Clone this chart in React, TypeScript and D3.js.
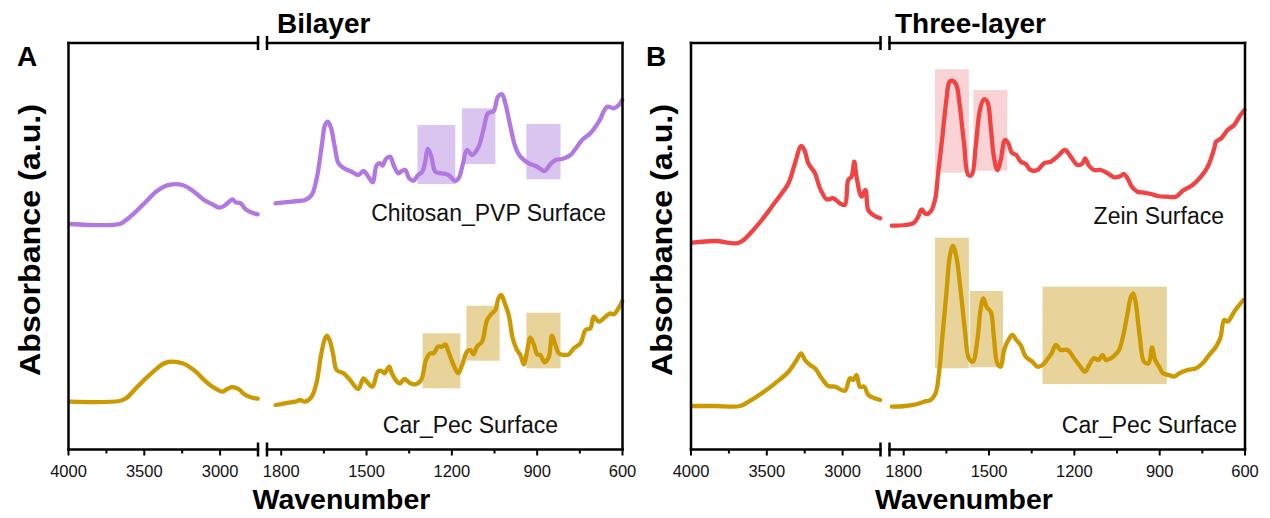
import React from 'react';
import * as d3 from 'd3';

type Pt = [number, number];

// axis domains (broken x axis)
const leftDomain: [number, number] = [4000, 2750];
const rightDomain: [number, number] = [1850, 600];
const leftMajor = [4000, 3500, 3000];
const leftMinor = [3750, 3250];
const rightMajor = [1800, 1500, 1200, 900, 600];
const rightMinor = [1650, 1350, 1050, 750];

// Panel A - Bilayer
const chitosanPvpLeft: Pt[] = [[3990,222],[3664,222],[3620,226],[3555,234.3],[3489,244.3],[3423,254.3],[3357,260.3],[3314,261.7],[3248,261],[3204,257.7],[3160,252.7],[3105,246],[3051,241.7],[3007,238.3],[2974,240],[2941,244.3],[2919,246.7],[2897,243.7],[2864,242.7],[2831,236.7],[2788,233.3],[2752,231.7]];
const chitosanPvpRight: Pt[] = [[1820,242.7],[1787,243.7],[1740,245],[1716,246],[1693,251],[1675,268],[1657,301],[1646,321],[1636,324.3],[1625,318],[1611,298],[1599,283],[1581,278],[1552,274.3],[1529,271],[1511,275],[1499,271.7],[1479,263.7],[1464,281],[1452,282.7],[1444,280.3],[1432,287],[1417,289.3],[1405,281],[1388,272.7],[1376,275],[1364,276],[1350,267.7],[1335,265.3],[1319,271],[1305,273.7],[1296,281],[1284,297],[1272,289.3],[1258,274.3],[1235,272.7],[1212,271],[1188,265],[1176,267.7],[1162,281],[1147,296],[1129,291],[1106,299.3],[1088,317.7],[1073,332.7],[1053,335],[1038,349.3],[1024,351.7],[1012,342.7],[994,319.3],[977,299.3],[959,289.3],[930,282.7],[900,279.3],[874,275],[854,281.7],[836,286],[812,287],[783,291],[742,306],[713,312.7],[683,324.3],[654,339.3],[631,337.7],[613,341],[601,346]];
const carPecALeft: Pt[] = [[3990,44.3],[3664,45],[3620,47.7],[3555,57.7],[3489,67.7],[3423,76.7],[3368,82.7],[3324,84.3],[3248,82.7],[3204,79.3],[3160,74.3],[3105,66],[3051,59.3],[2985,54.3],[2963,56],[2930,58.7],[2875,56.7],[2842,52],[2798,48.7],[2752,47.3]];
const carPecARight: Pt[] = [[1820,41],[1787,42.7],[1751,44.3],[1734,46],[1716,44.3],[1693,49.3],[1675,64.3],[1660,91],[1646,107.7],[1639,110.3],[1628,104.3],[1617,91],[1605,76],[1581,72.7],[1558,66],[1529,57],[1511,67.7],[1499,64.3],[1479,59.3],[1460,74.3],[1446,75],[1437,72.7],[1420,79.3],[1411,72.7],[1393,64.3],[1382,62.7],[1367,67],[1346,62.7],[1329,61.7],[1308,66],[1291,86],[1276,92.7],[1264,92.7],[1249,99.3],[1235,99.3],[1223,101.7],[1212,94.3],[1194,81],[1178,72.7],[1164,81],[1147,94.3],[1135,96],[1124,91.7],[1112,99.3],[1094,104.3],[1076,126],[1059,132.7],[1047,136],[1036,147.7],[1026,151],[1014,142.7],[1000,131],[986,107.7],[971,96],[959,91],[947,81.7],[936,94.3],[924,108.3],[912,101.7],[900,91.7],[889,91],[874,83.7],[859,89.3],[848,110.3],[836,101],[824,92.7],[807,91],[789,91.7],[771,97.7],[748,102.7],[730,116],[713,117.7],[701,129.3],[683,124.3],[660,129.3],[642,132.7],[631,131.7],[613,138.3],[601,145]];

// Panel B - Three-layer
const zeinLeft: Pt[] = [[3990,203.3],[3840,205],[3697,202.7],[3653,206],[3599,214.3],[3533,226],[3467,239.3],[3401,252.7],[3357,262.7],[3314,282.7],[3274,300],[3252,296],[3226,282.7],[3182,272.7],[3149,257.7],[3105,246.7],[3061,247.7],[3018,242.7],[2985,241],[2963,266],[2941,269.3],[2923,284.3],[2908,269.3],[2875,249.3],[2849,256],[2831,236],[2798,231],[2752,227.7]];
const zeinRight: Pt[] = [[1842,220.3],[1794,221],[1764,223.3],[1749,229.3],[1737,236.7],[1723,232],[1706,234.3],[1690,246],[1679,272.7],[1664,309.3],[1650,346],[1639,364.3],[1629,365.3],[1615,361],[1604,342.7],[1588,302.7],[1573,271],[1561,271],[1547,299.3],[1532,336],[1518,346.7],[1506,344.3],[1494,319.3],[1483,289.3],[1471,276],[1459,286],[1444,306],[1432,302.7],[1420,293.3],[1404,291],[1389,284.3],[1371,282],[1354,276],[1330,276],[1307,282.7],[1283,284.3],[1260,289.3],[1233,296],[1213,289.3],[1189,281],[1171,282.7],[1162,287.7],[1148,280],[1131,276],[1107,276],[1083,272.7],[1060,268.7],[1037,270],[1025,272],[1013,267.7],[998,259.3],[978,254.3],[955,253.3],[931,252],[907,250],[878,249.3],[843,249.3],[819,255.3],[784,261],[755,269.3],[731,279.3],[708,297.7],[702,304.3],[684,307.7],[661,316],[638,321],[620,329.3],[602,336]];
const carPecBLeft: Pt[] = [[3990,40],[3840,40],[3676,40],[3620,44.3],[3533,52.7],[3445,62.7],[3357,74.3],[3303,86],[3274,92.7],[3248,86],[3215,81],[3182,77.7],[3138,67.7],[3094,60],[3051,59.3],[2985,55.3],[2952,67.7],[2930,66],[2908,71],[2886,59.3],[2857,59.3],[2831,51],[2788,47.7],[2752,46]];
const carPecBRight: Pt[] = [[1842,39.3],[1794,40],[1752,42],[1729,44.3],[1706,46],[1688,52.7],[1676,72.7],[1664,109.3],[1650,152.7],[1638,189.3],[1627,200],[1615,189.3],[1600,156],[1585,116],[1571,87.7],[1557,84.3],[1541,106],[1530,136],[1520,147.7],[1508,138.7],[1494,134.3],[1483,109.3],[1471,82.7],[1459,79.3],[1447,96],[1432,106],[1418,111],[1404,106],[1389,101],[1371,89.3],[1348,84.3],[1330,79.3],[1312,81],[1295,86.7],[1280,92.7],[1265,101],[1248,96],[1224,96],[1201,87.7],[1183,81],[1162,74.3],[1148,81],[1131,87.7],[1115,86],[1101,91],[1089,86],[1072,87.7],[1057,91],[1043,96],[1029,109.3],[1013,132.7],[1001,149.3],[993,152.7],[984,142.7],[970,109.3],[955,84.3],[939,82.7],[927,98.7],[916,86],[902,79.3],[888,72.7],[867,71],[849,69.3],[831,72.7],[802,76],[772,77.7],[749,82.7],[726,91],[702,99.3],[687,107.7],[673,126],[661,124.3],[638,134.3],[620,141],[606,146]];

// highlight boxes: [from wn, to wn, low, high]
const boxesChitosan: number[][] = [[1321,1188,262,321],[1164,1047,282,337.7],[938,818,266.7,322]];
const boxesCarPecA: number[][] = [[1303,1170,57.7,112.7],[1149,1032,85.3,140.3],[938,818,77.7,133.3]];
const boxesZein: number[][] = [[1690,1571,273.3,376.7],[1555,1436,275.3,356]];
const boxesCarPecB: number[][] = [[1690,1571,77.7,208.3],[1567,1451,78.7,155],[1312,875,62,159.3]];

const PURPLE = '#B178E2', PURPLE_BOX = '#DAC5F0';
const GOLD = '#CC9900', GOLD_BOX = '#E8D49A';
const RED = '#F24343', PINK_BOX = '#F9D3D5';

const FONT = '"Liberation Sans", Arial, sans-serif';
const TOP = 43, BOTTOM = 449.5;
const yScale = d3.scaleLinear().domain([-3.5, 403]).range([BOTTOM, TOP]);

interface Series { left: Pt[]; right: Pt[]; color: string; boxes: number[][]; boxColor: string; label: string; labelEnd: number; labelY: number; }
interface PanelDef { x0: number; breakL: number; breakR: number; x1: number; letter: string; letterX: number; title: string; titleX: number; yTitleX: number; series: Series[]; }

const panels: PanelDef[] = [
  { x0: 68.5, breakL: 258, breakR: 267, x1: 622.5, letter: 'A', letterX: 17, title: 'Bilayer', titleX: 277, yTitleX: 40,
    series: [
      { left: chitosanPvpLeft, right: chitosanPvpRight, color: PURPLE, boxes: boxesChitosan, boxColor: PURPLE_BOX, label: 'Chitosan_PVP Surface', labelEnd: 606, labelY: 221 },
      { left: carPecALeft, right: carPecARight, color: GOLD, boxes: boxesCarPecA, boxColor: GOLD_BOX, label: 'Car_Pec Surface', labelEnd: 558, labelY: 433 },
    ] },
  { x0: 691, breakL: 880.5, breakR: 889.5, x1: 1245, letter: 'B', letterX: 646, title: 'Three-layer', titleX: 895, yTitleX: 672,
    series: [
      { left: zeinLeft, right: zeinRight, color: RED, boxes: boxesZein, boxColor: PINK_BOX, label: 'Zein Surface', labelEnd: 1224, labelY: 224 },
      { left: carPecBLeft, right: carPecBRight, color: GOLD, boxes: boxesCarPecB, boxColor: GOLD_BOX, label: 'Car_Pec Surface', labelEnd: 1237, labelY: 433 },
    ] },
];

const SW = 2.5;

function Panel({ p }: { p: PanelDef }) {
  const xL = d3.scaleLinear().domain(leftDomain).range([p.x0, p.breakL]);
  const xR = d3.scaleLinear().domain(rightDomain).range([p.breakR, p.x1]);
  const lineL = d3.line<Pt>().x(d => xL(d[0])).y(d => yScale(d[1])).curve(d3.curveCatmullRom.alpha(0.5));
  const lineR = d3.line<Pt>().x(d => xR(d[0])).y(d => yScale(d[1])).curve(d3.curveCatmullRom.alpha(0.5));
  const brk = (x: number, y: number, k: string) => <line key={k} x1={x} x2={x} y1={y - 7} y2={y + 7} stroke="#000" strokeWidth={SW} />;
  return (
    <g>
      {p.series.map((s, i) => (
        <g key={'b' + i}>
          {s.boxes.map((b, j) => (
            <rect key={j} x={xR(b[0])} width={xR(b[1]) - xR(b[0])} y={yScale(b[3])} height={yScale(b[2]) - yScale(b[3])} fill={s.boxColor} />
          ))}
        </g>
      ))}
      {p.series.map((s, i) => (
        <g key={'s' + i} fill="none" stroke={s.color} strokeWidth={4.3} strokeLinecap="round" strokeLinejoin="round">
          <path d={lineL(s.left) || ''} />
          <path d={lineR(s.right) || ''} />
        </g>
      ))}
      {p.series.map((s, i) => (
        <text key={'t' + i} x={s.labelEnd} y={s.labelY} textAnchor="end" fontFamily={FONT} fontSize={23} fill="#111">{s.label}</text>
      ))}
      {/* frame */}
      <g stroke="#000" strokeWidth={SW} fill="none" strokeLinecap="square">
        <line x1={p.x0} x2={p.breakL} y1={TOP} y2={TOP} />
        <line x1={p.breakR} x2={p.x1} y1={TOP} y2={TOP} />
        <line x1={p.x0} x2={p.breakL} y1={BOTTOM} y2={BOTTOM} />
        <line x1={p.breakR} x2={p.x1} y1={BOTTOM} y2={BOTTOM} />
        <line x1={p.x0} x2={p.x0} y1={TOP} y2={BOTTOM} />
        <line x1={p.x1} x2={p.x1} y1={TOP} y2={BOTTOM} />
      </g>
      {brk(p.breakL, TOP, 'a')}{brk(p.breakR, TOP, 'b')}{brk(p.breakL, BOTTOM, 'c')}{brk(p.breakR, BOTTOM, 'd')}
      {/* ticks */}
      <g stroke="#000" strokeWidth={2}>
        {leftMajor.map(t => <line key={'lM' + t} x1={xL(t)} x2={xL(t)} y1={BOTTOM} y2={BOTTOM + 6} />)}
        {leftMinor.map(t => <line key={'lm' + t} x1={xL(t)} x2={xL(t)} y1={BOTTOM} y2={BOTTOM + 4} />)}
        {rightMajor.map(t => <line key={'rM' + t} x1={xR(t)} x2={xR(t)} y1={BOTTOM} y2={BOTTOM + 6} />)}
        {rightMinor.map(t => <line key={'rm' + t} x1={xR(t)} x2={xR(t)} y1={BOTTOM} y2={BOTTOM + 4} />)}
      </g>
      <g fontFamily={FONT} fontSize={16.5} textAnchor="middle" fill="#111">
        {leftMajor.map(t => <text key={'L' + t} x={xL(t)} y={477}>{t}</text>)}
        {rightMajor.map(t => <text key={'R' + t} x={xR(t)} y={477}>{t}</text>)}
      </g>
      <text x={(p.x0 + p.x1) / 2 - 4} y={509} textAnchor="middle" fontFamily={FONT} fontWeight="bold" fontSize={28.5}>Wavenumber</text>
      <text transform={`translate(${p.yTitleX},240) rotate(-90)`} textAnchor="middle" fontFamily={FONT} fontWeight="bold" fontSize={29} textLength={272} lengthAdjust="spacingAndGlyphs">Absorbance (a.u.)</text>
      <text x={p.letterX} y={66} fontFamily={FONT} fontWeight="bold" fontSize={28}>{p.letter}</text>
      <text x={p.titleX} y={33} fontFamily={FONT} fontWeight="bold" fontSize={28}>{p.title}</text>
    </g>
  );
}

export default function App() {
  return (
    <svg width={1270} height={518} viewBox="0 0 1270 518" style={{ position: 'absolute', left: 0, top: 0, background: '#fff' }}>
      <rect width={1270} height={518} fill="#fff" />
      {panels.map((p, i) => <Panel key={i} p={p} />)}
    </svg>
  );
}
